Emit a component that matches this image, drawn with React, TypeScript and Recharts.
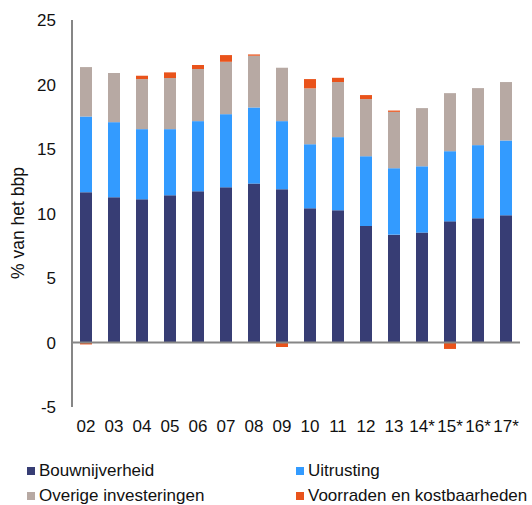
import { BarChart, Bar, XAxis, YAxis, ReferenceLine, Legend } from 'recharts';

const years = ['02', '03', '04', '05', '06', '07', '08', '09', '10', '11', '12', '13', '14*', '15*', '16*', '17*'];

const bouwnijverheid = [11.65, 11.26, 11.1, 11.41, 11.72, 12.03, 12.32, 11.88, 10.4, 10.25, 9.03, 8.36, 8.52, 9.39, 9.63, 9.86];
const uitrusting = [5.87, 5.82, 5.44, 5.13, 5.44, 5.67, 5.9, 5.28, 4.97, 5.67, 5.41, 5.15, 5.14, 5.44, 5.67, 5.8];
const overige = [3.83, 3.81, 3.88, 3.96, 4.04, 4.06, 4.01, 4.14, 4.33, 4.27, 4.43, 4.37, 4.51, 4.5, 4.42, 4.53];
const voorraden = [-0.15, 0, 0.26, 0.44, 0.31, 0.52, 0.1, -0.35, 0.72, 0.33, 0.31, 0.1, 0, -0.5, 0, 0];

const yTicks = [-5, 0, 5, 10, 15, 20, 25];

const series = [
  { key: 'bouw', name: 'Bouwnijverheid', color: '#373D74' },
  { key: 'uitr', name: 'Uitrusting', color: '#339BFF' },
  { key: 'overig', name: 'Overige investeringen', color: '#B7A9A3' },
  { key: 'voorraad', name: 'Voorraden en kostbaarheden', color: '#E9531B' },
];

const data = years.map((year, i) => ({
  year,
  bouw: bouwnijverheid[i],
  uitr: uitrusting[i],
  overig: overige[i],
  voorraad: voorraden[i],
}));

const FONT = '"Liberation Sans", Arial, sans-serif';

function renderLegend() {
  return (
    <div
      style={{
        display: 'grid',
        gridTemplateColumns: '269px 250px',
        rowGap: 8,
        fontFamily: FONT,
        fontSize: 17,
        color: '#111',
        paddingLeft: 27,
      }}
    >
      {series.map((s) => (
        <div key={s.key} style={{ display: 'flex', alignItems: 'center', height: 17 }}>
          <span style={{ width: 8, height: 8, background: s.color, marginRight: 4, display: 'inline-block' }} />
          <span>{s.name}</span>
        </div>
      ))}
    </div>
  );
}

export default function App() {
  return (
    <div style={{ position: 'absolute', left: 0, top: 0, width: 532, height: 505, background: '#fff' }}>
      <BarChart
        width={532}
        height={505}
        data={data}
        stackOffset="sign"
        barSize={12}
        margin={{ top: 20, right: 12, left: 0, bottom: 68 }}
      >
        <XAxis
          dataKey="year"
          axisLine={false}
          tickLine={false}
          interval={0}
          height={30}
          tickMargin={7}
          tick={{ fontSize: 17, fill: '#111', fontFamily: FONT }}
        />
        <YAxis
          width={72}
          domain={[-5, 25]}
          ticks={yTicks}
          interval={0}
          tickLine={false}
          tickMargin={10}
          axisLine={{ stroke: '#868686', strokeWidth: 2 }}
          tick={{ fontSize: 17, fill: '#111', fontFamily: FONT }}
          label={{
            content: () => (
              <text
                x={18}
                y={223}
                transform="rotate(-90 18 223)"
                textAnchor="middle"
                dominantBaseline="central"
                fontSize={17.5}
                fill="#111"
                fontFamily={FONT}
              >
                % van het bbp
              </text>
            ),
          }}
        />
        {series.map((s) => (
          <Bar key={s.key} dataKey={s.key} name={s.name} stackId="a" fill={s.color} isAnimationActive={false} />
        ))}
        <ReferenceLine y={0} stroke="#868686" strokeWidth={2} />
        <Legend
          layout="horizontal"
          verticalAlign="middle"
          align="center"
          content={renderLegend}
          wrapperStyle={{ left: 0, top: 462, width: 532, height: 45 }}
        />
      </BarChart>
    </div>
  );
}
